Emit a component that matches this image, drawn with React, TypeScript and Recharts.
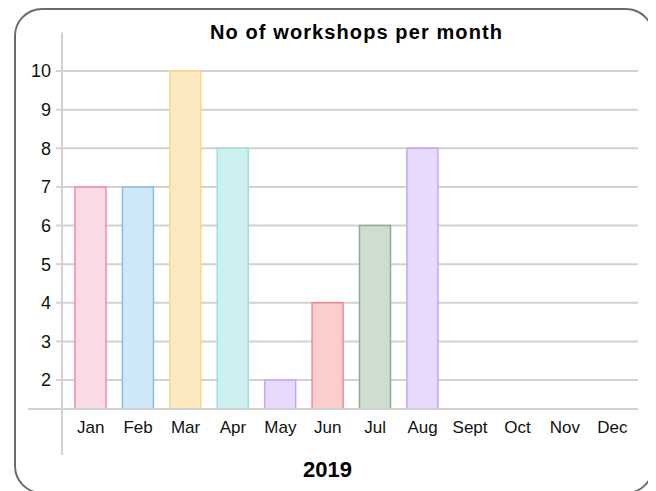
import { BarChart, Bar, XAxis, YAxis, CartesianGrid, Cell } from 'recharts';

const months = ['Jan', 'Feb', 'Mar', 'Apr', 'May', 'Jun', 'Jul', 'Aug', 'Sept', 'Oct', 'Nov', 'Dec'];
const workshops = [7, 7, 10, 8, 2, 4, 6, 8, null, null, null, null];
const yTicks = [2, 3, 4, 5, 6, 7, 8, 9, 10];

const fills = ['#f9dbe3', '#cfe8f7', '#fde9bf', '#cdf0f0', '#e8dafc', '#fbcdcd', '#cfddd0', '#e8dafc'];
const strokes = ['#f08ca6', '#86bfe8', '#fad88e', '#9ee0e0', '#c5a6f5', '#f08a8a', '#8fae90', '#c5a6f5'];

const data = months.map((name, i) => ({ name, count: workshops[i] }));

const font = '"Liberation Sans", Arial, sans-serif';
const gridColor = '#d2d2d2';

export default function App() {
  return (
    <div style={{ position: 'relative', width: 648, height: 484, fontFamily: font }}>
      <div
        style={{
          position: 'absolute',
          left: 6,
          top: 0,
          width: 640,
          height: 486,
          boxSizing: 'border-box',
          border: '2px solid #6b6b6b',
          borderRadius: 28,
        }}
      />
      <div
        style={{
          position: 'absolute',
          left: 0,
          top: 13.8,
          width: 697,
          textAlign: 'center',
          fontSize: 20,
          lineHeight: '20px',
          fontWeight: 'bold',
          letterSpacing: 1.1,
          color: '#000',
        }}
      >
        No of workshops per month
      </div>
      <div style={{ position: 'absolute', left: 0, top: 0 }}>
        <BarChart
          width={640}
          height={480}
          data={data}
          margin={{ top: 24.4, right: 10, left: 0, bottom: 49 }}
        >
          <CartesianGrid
            vertical={false}
            horizontalValues={yTicks}
            stroke={gridColor}
            strokeWidth={2}
          />
          <XAxis
            dataKey="name"
            padding={{ left: 5, right: 2 }}
            height={30}
            tickLine={false}
            tickSize={0}
            tickMargin={12}
            axisLine={{ stroke: gridColor, strokeWidth: 2 }}
            tick={{ fill: '#111', fontSize: 17, fontFamily: font }}
            interval={0}
          />
          <YAxis
            width={54}
            domain={[1.25, 11]}
            allowDataOverflow
            ticks={yTicks}
            interval={0}
            tickSize={6}
            tickMargin={5}
            tickLine={{ stroke: gridColor, strokeWidth: 2 }}
            axisLine={{ stroke: gridColor, strokeWidth: 2 }}
            tick={{ fill: '#111', fontSize: 18, fontFamily: font }}
          />
          <Bar dataKey="count" barSize={31} strokeWidth={1.5} isAnimationActive={false}>
            {data.map((d, i) => (
              <Cell key={d.name} fill={fills[i] || '#fff'} stroke={strokes[i] || '#fff'} />
            ))}
          </Bar>
        </BarChart>
      </div>
      <div style={{ position: 'absolute', left: 53, top: 401, width: 2, height: 46, background: gridColor }} />
      <div style={{ position: 'absolute', left: 20, top: 400, width: 34, height: 2, background: gridColor }} />
      <div
        style={{
          position: 'absolute',
          left: 0,
          top: 451.4,
          width: 639,
          textAlign: 'center',
          fontSize: 22,
          lineHeight: '22px',
          fontWeight: 'bold',
          color: '#000',
        }}
      >
        2019
      </div>
    </div>
  );
}
